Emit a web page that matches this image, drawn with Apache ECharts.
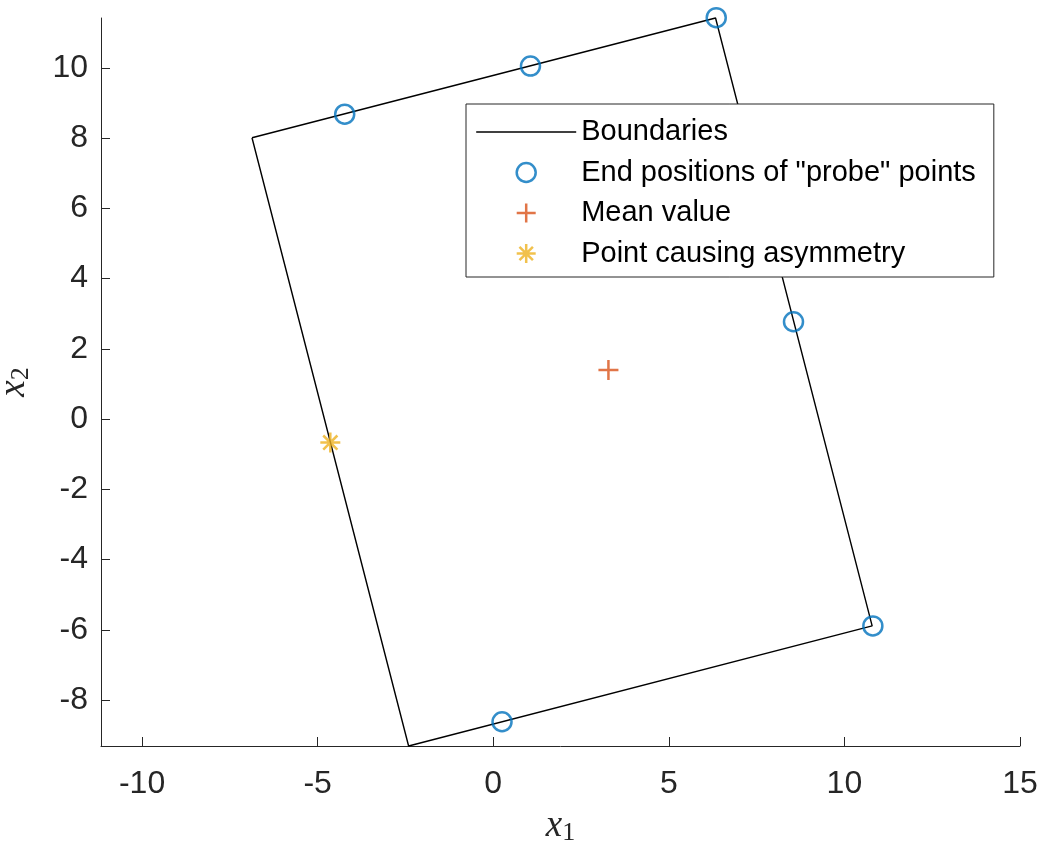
<!DOCTYPE html>
<html>
<head>
<meta charset="utf-8">
<script src="https://cdn.jsdelivr.net/npm/echarts@6/dist/echarts.min.js"></script>
<style>
html,body{margin:0;padding:0;background:#fff;}
#c{width:1041px;height:846px;}
</style>
</head>
<body>
<div id="c"></div>
<script>
// ---- data ----
const boundaryX = [-6.87, 6.33, 10.79, -2.41, -6.87];
const boundaryY = [8.01, 11.42, -5.89, -9.31, 8.01];
const probeX = [-4.23, 1.06, 6.35, 8.55, 10.81, 0.25];
const probeY = [8.68, 10.05, 11.43, 2.77, -5.89, -8.62];
const meanX = [3.28];
const meanY = [1.40];
const asymX = [-4.64];
const asymY = [-0.67];
const xTicks = [-10, -5, 0, 5, 10, 15];
const yTicks = [-8, -6, -4, -2, 0, 2, 4, 6, 8, 10];
const xRange = [-11.17, 15];
const yRange = [-9.31, 11.42];
const seriesNames = ['Boundaries', 'End positions of "probe" points', 'Mean value', 'Point causing asymmetry'];

const zip = (xs, ys) => xs.map((x, i) => [x, ys[i]]);

const plusPath = 'path://M0,10 L20,10 M10,0 L10,20';
const asteriskPath = 'path://M0,10 L20,10 M10,0 L10,20 M2.93,2.93 L17.07,17.07 M2.93,17.07 L17.07,2.93';

const blue = '#0072BD', orange = '#D95319', yellow = '#EDB120', axisCol = '#262626';

const nameRich = {
  x: { fontFamily: 'Liberation Serif', fontStyle: 'italic', fontSize: 37, lineHeight: 40, color: '#262626', verticalAlign: 'middle' },
  s: { fontFamily: 'Liberation Serif', fontSize: 26, lineHeight: 20, color: '#262626', verticalAlign: 'bottom' }
};

const axisCommon = {
  type: 'value',
  axisLine: { show: true, onZero: false, lineStyle: { color: axisCol, width: 1 } },
  splitLine: { show: false },
  nameLocation: 'middle',
  nameTextStyle: { rich: nameRich }
};

const chart = echarts.init(document.getElementById('c'), null, { renderer: 'canvas' });
chart.setOption({
  animation: false,
  backgroundColor: '#fff',
  grid: { left: 101, right: 21, top: 18, bottom: 100, containLabel: false, outerBoundsMode: 'none' },
  xAxis: Object.assign({}, axisCommon, {
    min: xRange[0], max: xRange[1],
    axisTick: { show: true, inside: true, length: 9, customValues: xTicks, lineStyle: { color: axisCol } },
    axisLabel: { customValues: xTicks, margin: 22, fontSize: 32, lineHeight: 32, fontFamily: 'Liberation Sans', color: axisCol },
    name: '{x|x}{s|1}', nameGap: 60
  }),
  yAxis: Object.assign({}, axisCommon, {
    min: yRange[0], max: yRange[1],
    axisTick: { show: true, inside: true, length: 9, customValues: yTicks, lineStyle: { color: axisCol } },
    axisLabel: { customValues: yTicks, margin: 13, fontSize: 32, lineHeight: 32, fontFamily: 'Liberation Sans', color: axisCol },
    name: '{x|x}{s|2}', nameGap: 67
  }),
  legend: {
    orient: 'vertical', left: 466, top: 104,
    padding: [13.5, 18, 9, 9.5],
    itemWidth: 100, itemHeight: 19, itemGap: 11.5,
    backgroundColor: '#fff', borderColor: axisCol, borderWidth: 1, borderRadius: 0,
    selectedMode: false,
    textStyle: { fontFamily: 'Liberation Sans', fontSize: 29, color: '#000', lineHeight: 19 },
    data: [
      { name: seriesNames[0], itemStyle: { opacity: 0 }, lineStyle: { color: '#000', width: 1.4 } },
      { name: seriesNames[1], icon: 'circle', itemStyle: { color: 'transparent', borderColor: blue, borderWidth: 2.5 } },
      { name: seriesNames[2], icon: plusPath, itemStyle: { color: 'transparent', borderColor: orange, borderWidth: 2.5 } },
      { name: seriesNames[3], icon: asteriskPath, itemStyle: { color: 'transparent', borderColor: yellow, borderWidth: 2.5 } }
    ]
  },
  series: [
    {
      name: seriesNames[0], type: 'line', data: zip(boundaryX, boundaryY),
      symbol: 'none', clip: false, z: 2,
      lineStyle: { color: '#000', width: 1.4 }, itemStyle: { color: '#000' }
    },
    {
      name: seriesNames[1], type: 'scatter', data: zip(probeX, probeY),
      symbol: 'circle', symbolSize: 19, clip: false, z: 3,
      itemStyle: { color: 'transparent', borderColor: blue, borderWidth: 2.5 }
    },
    {
      name: seriesNames[2], type: 'scatter', data: zip(meanX, meanY),
      symbol: plusPath, symbolSize: 20, clip: false, z: 3,
      itemStyle: { color: 'transparent', borderColor: orange, borderWidth: 2.5 }
    },
    {
      name: seriesNames[3], type: 'scatter', data: zip(asymX, asymY),
      symbol: asteriskPath, symbolSize: 20, clip: false, z: 3,
      itemStyle: { color: 'transparent', borderColor: yellow, borderWidth: 2.5 }
    }
  ]
});
</script>
</body>
</html>
